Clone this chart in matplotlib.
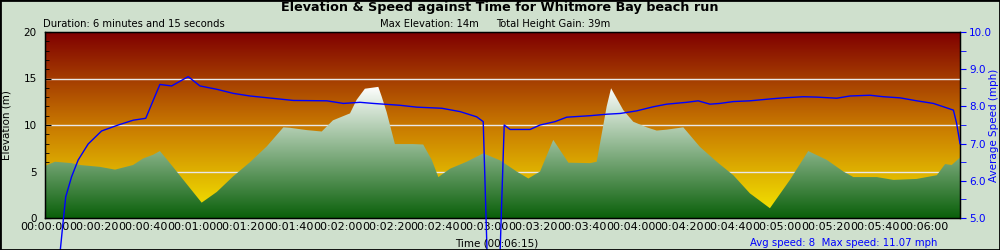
import matplotlib
matplotlib.use('Agg')
import matplotlib.pyplot as plt
import numpy as np
from matplotlib.colors import LinearSegmentedColormap
from matplotlib.patches import Polygon, Rectangle
from matplotlib.ticker import MultipleLocator, FuncFormatter

# Elevation samples (seconds, metres)
elev_time = [0, 4.1, 10.9, 14.3, 22.5, 28.7, 36.1, 40.2, 44.3, 47.1, 51.2, 64.2,
             70.4, 77.0, 84.0, 90.9, 97.7, 100.4, 107.3, 113.4, 118.0, 125.0,
             127.7, 131.1, 136.6, 138.0, 140.0, 143.4, 150.9, 155.0, 158.5,
             161.2, 166.0, 172.8, 179.6, 186.5, 193.3, 198.1, 202.9, 208.3,
             214.5, 223.4, 226.1, 228.2, 230.2, 232.0, 237.0, 241.1, 246.6,
             250.7, 254.8, 261.6, 268.4, 275.3, 282.1, 288.9, 297.1, 305.3,
             312.8, 320.4, 327.2, 331.3, 340.9, 347.7, 357.2, 365.5, 368.9,
             371.6, 375]
elevation = [5.6, 6.05, 5.9, 5.7, 5.5, 5.2, 5.7, 6.4, 6.8, 7.2, 5.9, 1.65,
             2.8, 4.45, 6.0, 7.7, 9.75, 9.7, 9.45, 9.3, 10.5, 11.25,
             12.7, 13.9, 14.1, 13.05, 11.4, 7.95, 7.95, 7.9, 6.25,
             4.4, 5.3, 6.05, 6.95, 6.2, 5.0, 4.25, 5.0, 8.4,
             5.95, 5.9, 6.05, 9.1, 12.0, 13.95, 11.6, 10.35, 9.75,
             9.4, 9.5, 9.75, 7.65, 6.05, 4.6, 2.65, 1.05, 4.1,
             7.2, 6.25, 5.0, 4.4, 4.4, 4.1, 4.2, 4.6, 5.8,
             5.7, 6.5]

# Average speed samples (seconds, mph)
speed_time = [0, 7.5, 8.5, 10.9, 13.6, 17.7, 23.2, 30.0, 36.2, 41.3, 44.4, 47.1,
              51.9, 58.7, 63.5, 70.4, 77.2, 84.0, 101.8, 115.5, 122.3, 129.1,
              134.5, 145.5, 152.3, 162.6, 170.1, 176.9, 179.6, 183.0, 184.5,
              188.2, 190.6, 198.8, 202.9, 209.0, 213.8, 223.4, 230.2, 235.7,
              242.5, 249.3, 254.8, 263.0, 267.7, 272.5, 276.6, 282.1, 288.9,
              297.1, 302.6, 310.8, 316.3, 324.5, 329.9, 338.1, 343.6, 350.4,
              357.3, 364.1, 368.2, 372.3, 373.6, 375]
speed = [0.0, 4.95, 5.57, 6.11, 6.56, 6.99, 7.34, 7.5, 7.63, 7.68, 8.17, 8.59,
         8.55, 8.8, 8.55, 8.46, 8.35, 8.28, 8.16, 8.15, 8.08, 8.11,
         8.08, 8.03, 7.98, 7.95, 7.86, 7.72, 7.59, 0.0, 0.0,
         7.5, 7.38, 7.38, 7.5, 7.59, 7.71, 7.75, 7.79, 7.81,
         7.88, 7.99, 8.06, 8.11, 8.15, 8.06, 8.08, 8.13, 8.15,
         8.2, 8.23, 8.26, 8.25, 8.22, 8.28, 8.3, 8.26, 8.23,
         8.15, 8.08, 7.99, 7.9, 7.55, 7.0]

bg_color = '#cfe0cd'
blue = '#0000ff'
duration = 375

fig = plt.figure(figsize=(10, 2.5), dpi=100, facecolor=bg_color)
ax = fig.add_axes([0.045, 0.128, 0.915, 0.744])

# sky gradient behind the plot
sky = LinearSegmentedColormap.from_list('sky', ['#f5ea00', '#c87800', '#800000'])
grad = np.linspace(0, 1, 256).reshape(-1, 1)
ax.imshow(grad, extent=[0, duration, 0, 20], origin='lower', aspect='auto',
          cmap=sky, zorder=0)

for y in [5, 10, 15]:
    ax.axhline(y, color='#e8e8e8', lw=1, zorder=1)

# elevation area with green-to-white gradient
verts = [(elev_time[0], 0)] + list(zip(elev_time, elevation)) + [(elev_time[-1], 0)]
poly = Polygon(verts, closed=True, facecolor='none', edgecolor='none')
ax.add_patch(poly)
hill = LinearSegmentedColormap.from_list('hill', ['#0a600a', '#ffffff'])
img = ax.imshow(grad, extent=[0, duration, 0, max(elevation)], origin='lower',
                aspect='auto', cmap=hill, zorder=2)
img.set_clip_path(poly)

ax.set_xlim(0, duration)
ax.set_ylim(0, 20)

def hms(v, pos=None):
    v = int(round(v))
    return '%02d:%02d:%02d' % (v // 3600, (v % 3600) // 60, v % 60)

ax.xaxis.set_major_locator(MultipleLocator(20))
ax.xaxis.set_minor_locator(MultipleLocator(10))
ax.xaxis.set_major_formatter(FuncFormatter(hms))
ax.yaxis.set_major_locator(MultipleLocator(5))
ax.yaxis.set_minor_locator(MultipleLocator(1))
ax.tick_params(axis='both', which='both', direction='in', top=False, right=False,
               color='black')
ax.tick_params(axis='x', which='major', length=5, pad=3, labelsize=8)
ax.tick_params(axis='x', which='minor', length=3)
ax.tick_params(axis='y', which='major', length=4, pad=6, labelsize=7.5)
ax.tick_params(axis='y', which='minor', length=3)
for s in ax.spines.values():
    s.set_linewidth(1)
    s.set_zorder(5)

ax.set_ylabel('Elevation (m)', fontsize=7.5)
ax.yaxis.set_label_coords(-0.037, 0.5)

# speed on secondary axis
ax2 = ax.twinx()
ax2.plot(speed_time, speed, color=blue, lw=1, clip_on=False, zorder=4)
ax2.set_ylim(5, 10)
ax2.set_xlim(0, duration)
ax2.yaxis.set_major_locator(MultipleLocator(1))
ax2.yaxis.set_minor_locator(MultipleLocator(0.5))
ax2.yaxis.set_major_formatter(FuncFormatter(lambda v, p: '%.1f' % v))
ax2.tick_params(axis='y', which='both', direction='out', colors=blue,
                labelsize=7.5, length=4, pad=2.5)
ax2.spines['right'].set_color('black')
ax2.set_ylabel('Average Speed (mph)', fontsize=7.5, color=blue)
ax2.yaxis.set_label_coords(1.032, 0.5)

# header and footer texts
fig.text(0.5, 1 - 7.7 / 250, 'Elevation & Speed against Time for Whitmore Bay beach run',
         ha='center', va='center', fontsize=9.2, weight='bold')
fig.text(0.043, 1 - 24 / 250, 'Duration: 6 minutes and 15 seconds',
         ha='left', va='center', fontsize=7.2)
fig.text(0.380, 1 - 24 / 250, 'Max Elevation: 14m',
         ha='left', va='center', fontsize=7.2)
fig.text(0.496, 1 - 24 / 250, 'Total Height Gain: 39m',
         ha='left', va='center', fontsize=7.2)
fig.text(0.497, 1 - 243 / 250, 'Time (00:06:15)',
         ha='center', va='center', fontsize=7.5)
fig.text(0.750, 1 - 243 / 250, 'Avg speed: 8  Max speed: 11.07 mph',
         ha='left', va='center', fontsize=7.25, color=blue)

fig.add_artist(Rectangle((0, 0), 1, 1, transform=fig.transFigure, fill=False,
                         edgecolor='black', lw=2))

fig.savefig('out.png', dpi=100, facecolor=fig.get_facecolor())
